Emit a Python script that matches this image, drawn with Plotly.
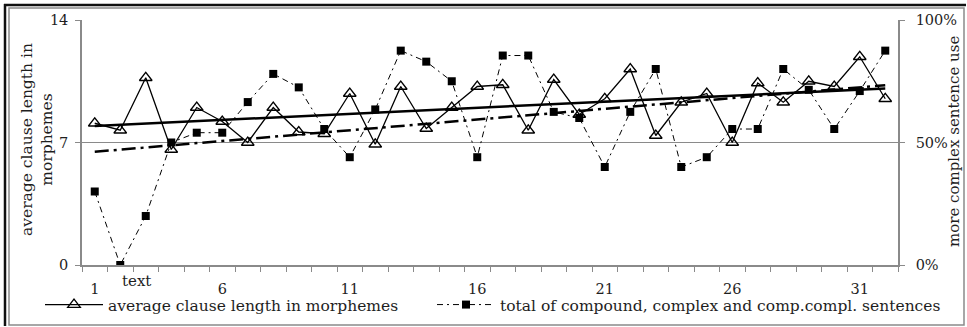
import numpy as np
import plotly.graph_objects as go

texts = list(range(1, 33))
clause_len = [8.1, 7.7, 10.7, 6.6, 9.0, 8.2, 7.0, 9.0, 7.6, 7.5, 9.8, 6.9, 10.2, 7.8, 9.0, 10.2,
              10.3, 7.7, 10.6, 8.6, 9.5, 11.2, 7.4, 9.3, 9.8, 7.0, 10.4, 9.3, 10.5, 10.2, 11.9, 9.5]
complex_share = [0.30, 0.00, 0.20, 0.50, 0.54, 0.54, 0.665, 0.78, 0.725, 0.555, 0.44, 0.635,
                 0.875, 0.83, 0.75, 0.44, 0.855, 0.855, 0.625, 0.60, 0.40, 0.625, 0.80, 0.40,
                 0.44, 0.555, 0.555, 0.80, 0.715, 0.555, 0.71, 0.875]
x_tick_vals = [1, 6, 11, 16, 21, 26, 31]
y_left_ticks = [0, 7, 14]
y_right_ticks = [0, 0.5, 1.0]
y_right_labels = ["0%", "50%", "100%"]

W, H = 967, 327
L, R, T, B = 82, 69, 20, 62
PW, PH = W - L - R, H - T - B


def px(xp):
    return (xp - L) / PW


def py(yp):
    return (H - B - yp) / PH


xs = np.array(texts, dtype=float)
c1 = np.polyfit(xs, clause_len, 1)
c2 = np.polyfit(xs, complex_share, 1)
trend1 = np.polyval(c1, xs)
trend2 = np.polyval(c2, xs)

FONT = "DejaVu Serif"
TXT = "#1e1e1e"
GRAY = "#8a8a8a"
fig = go.Figure()
fig.add_trace(go.Scatter(
    x=texts, y=clause_len, name="average clause length in morphemes", legend="legend",
    mode="lines+markers", line=dict(color="black", width=1.3),
    marker=dict(symbol="triangle-up-open", size=11, color="black", line=dict(width=1.3)),
))
fig.add_trace(go.Scatter(
    x=texts, y=complex_share, name="total of compound, complex and comp.compl. sentences",
    legend="legend2", yaxis="y2", mode="lines+markers",
    line=dict(color="black", width=1, dash="6px,4px,2px,4px"),
    marker=dict(symbol="square", size=8, color="black"),
))
fig.add_trace(go.Scatter(
    x=texts, y=trend1, mode="lines", showlegend=False, hoverinfo="skip",
    line=dict(color="black", width=2.5),
))
fig.add_trace(go.Scatter(
    x=texts, y=trend2, yaxis="y2", mode="lines", showlegend=False, hoverinfo="skip",
    line=dict(color="black", width=2.5, dash="14px,5px,3px,5px"),
))

shapes = [
    dict(type="rect", xref="paper", yref="paper", x0=px(9), x1=px(964), y0=py(8), y1=py(325),
         line=dict(color=GRAY, width=1.5), layer="below"),
    dict(type="line", xref="paper", yref="paper", x0=px(4), x1=px(966), y0=py(5), y1=py(5),
         line=dict(color="#111", width=2.5)),
    dict(type="line", xref="paper", yref="paper", x0=px(5), x1=px(5), y0=py(4), y1=py(326),
         line=dict(color="#111", width=2.5)),
]

annotations = [
    dict(text="text", x=px(136), y=py(281), xref="paper", yref="paper", showarrow=False,
         xanchor="center", yanchor="middle", font=dict(family=FONT, size=15, color=TXT)),
    dict(text="average clause length in<br>morphemes", x=px(37), y=py(140), xref="paper", yref="paper",
         showarrow=False, textangle=-90, xanchor="center", yanchor="middle",
         font=dict(family=FONT, size=15.5, color=TXT)),
    dict(text="more complex sentence use", x=px(954), y=py(142), xref="paper", yref="paper",
         showarrow=False, textangle=-90, xanchor="center", yanchor="middle",
         font=dict(family=FONT, size=15, color=TXT)),
]

leg_common = dict(orientation="h", yanchor="middle", y=py(305),
                  font=dict(family=FONT, size=15.5, color=TXT), bgcolor="rgba(0,0,0,0)",
                  itemwidth=58, tracegroupgap=0)

fig.update_layout(
    width=W, height=H, margin=dict(l=L, r=R, t=T, b=B, autoexpand=False),
    paper_bgcolor="white", plot_bgcolor="white",
    font=dict(family=FONT, size=15, color=TXT),
    showlegend=True,
    legend=dict(x=px(40), xanchor="left", **leg_common),
    legend2=dict(x=px(432), xanchor="left", **leg_common),
    xaxis=dict(range=[0.5, 32.5], tickmode="array", tickvals=x_tick_vals, ticks="",
               showline=True, linecolor=GRAY, linewidth=1.5, showgrid=False, zeroline=False,
               ticklabelstandoff=10,
               minor=dict(tickmode="array", tickvals=[i + 0.5 for i in range(0, 33)],
                          ticks="outside", ticklen=5, tickcolor=GRAY, tickwidth=1.2, showgrid=False),
               tickfont=dict(family=FONT, size=14.5, color=TXT)),
    yaxis=dict(range=[0, 14], tickmode="array", tickvals=y_left_ticks, ticks="outside", ticklen=5,
               tickcolor=GRAY, tickwidth=1.2, ticklabelstandoff=4,
               showline=True, linecolor=GRAY, linewidth=1.5, showgrid=True, gridcolor=GRAY,
               gridwidth=1.2, zeroline=False, tickfont=dict(family=FONT, size=14.5, color=TXT)),
    yaxis2=dict(range=[0, 1], overlaying="y", side="right", tickmode="array", tickvals=y_right_ticks,
                ticktext=y_right_labels, ticks="outside", ticklen=5, tickcolor=GRAY, tickwidth=1.2,
                ticklabelstandoff=8,
                showline=True, linecolor=GRAY, linewidth=1.5, showgrid=False, zeroline=False,
                tickfont=dict(family=FONT, size=14.5, color=TXT)),
    shapes=shapes, annotations=annotations,
)

fig.write_html("out.html")
